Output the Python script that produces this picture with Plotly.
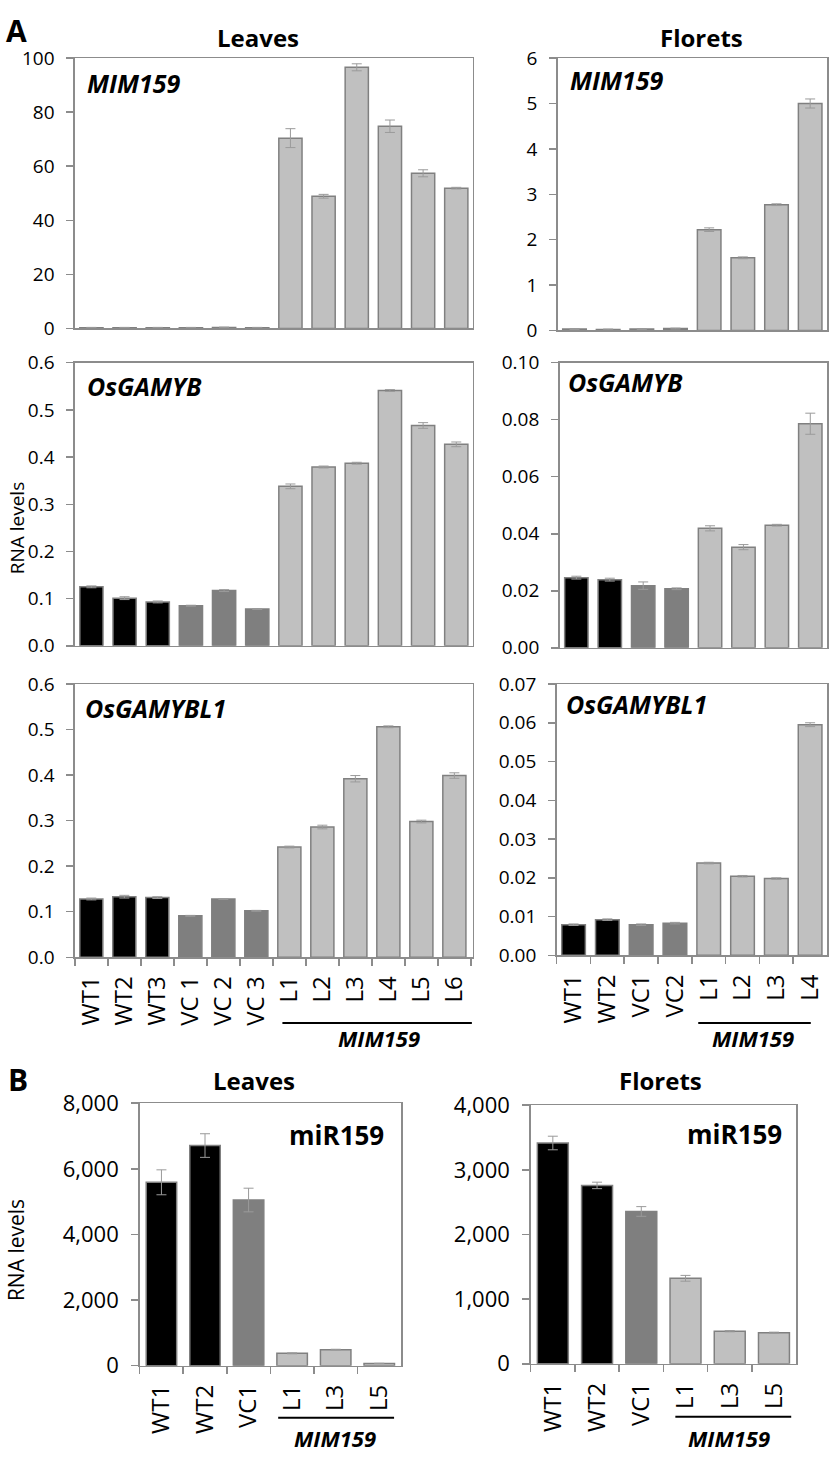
import plotly.graph_objects as go

W, H = 829, 1462
FONT = "Open Sans"

# ---------------- data ----------------
leaf_labels = ["WT1", "WT2", "WT3", "VC 1", "VC 2", "VC 3", "L1", "L2", "L3", "L4", "L5", "L6"]
leaf_groups = ["WT", "WT", "WT", "VC", "VC", "VC", "L", "L", "L", "L", "L", "L"]
flor_labels = ["WT1", "WT2", "VC1", "VC2", "L1", "L2", "L3", "L4"]
flor_groups = ["WT", "WT", "VC", "VC", "L", "L", "L", "L"]

leaf_mim159 = [0.3, 0.3, 0.3, 0.3, 0.4, 0.3, 70.4, 48.9, 96.6, 74.8, 57.4, 51.9]
leaf_mim159_err = [0.1, 0.1, 0.1, 0.1, 0.1, 0.1, 3.5, 0.7, 1.3, 2.3, 1.3, 0.3]
flor_mim159 = [0.03, 0.02, 0.03, 0.04, 2.22, 1.60, 2.77, 5.0]
flor_mim159_err = [0.01, 0.01, 0.01, 0.01, 0.04, 0.02, 0.02, 0.1]

leaf_gamyb = [0.125, 0.101, 0.093, 0.085, 0.117, 0.078, 0.338, 0.379, 0.387, 0.541, 0.467, 0.427]
leaf_gamyb_err = [0.002, 0.003, 0.002, 0.001, 0.002, 0.001, 0.005, 0.002, 0.002, 0.002, 0.006, 0.005]
flor_gamyb = [0.0246, 0.0239, 0.0218, 0.0207, 0.0419, 0.0353, 0.0430, 0.0786]
flor_gamyb_err = [0.0005, 0.0005, 0.0013, 0.0003, 0.0009, 0.0009, 0.0003, 0.0037]

leaf_gamybl1 = [0.128, 0.133, 0.131, 0.091, 0.128, 0.102, 0.242, 0.286, 0.392, 0.506, 0.298, 0.399]
leaf_gamybl1_err = [0.002, 0.003, 0.002, 0.001, 0.001, 0.001, 0.002, 0.004, 0.007, 0.002, 0.003, 0.006]
flor_gamybl1 = [0.0079, 0.0092, 0.0079, 0.0083, 0.0238, 0.0204, 0.0198, 0.0595]
flor_gamybl1_err = [0.0002, 0.0002, 0.0002, 0.0002, 0.0002, 0.0002, 0.0002, 0.0005]

mir_labels = ["WT1", "WT2", "VC1", "L1", "L3", "L5"]
mir_groups = ["WT", "WT", "VC", "L", "L", "L"]
leaf_mir159 = [5590, 6710, 5050, 378, 487, 70]
leaf_mir159_err = [380, 360, 360, 15, 15, 5]
flor_mir159 = [3415, 2759, 2356, 1322, 504, 479]
flor_mir159_err = [105, 50, 75, 45, 10, 10]

group_colors = {"WT": "#000000", "VC": "#7f7f7f", "L": "#c0c0c0"}
EDGE = "#808080"
FRAME = "#8c8c8c"

def px_x(p):
    return p / W

def px_y(p):
    return 1 - p / H

panels = [
    (leaf_labels, leaf_groups, leaf_mim159, leaf_mim159_err, (73, 472), (43, 319), [0, 100], 20, "d", False),
    (flor_labels, flor_groups, flor_mim159, flor_mim159_err, (557, 827), (43, 321), [0, 6], 1, "d", False),
    (leaf_labels, leaf_groups, leaf_gamyb, leaf_gamyb_err, (73, 472), (354, 643), [0, 0.6], 0.1, ".1f", False),
    (flor_labels, flor_groups, flor_gamyb, flor_gamyb_err, (559, 827), (354, 645), [0, 0.10], 0.02, ".2f", False),
    (leaf_labels, leaf_groups, leaf_gamybl1, leaf_gamybl1_err, (73, 472), (682, 961), [0, 0.6], 0.1, ".1f", True),
    (flor_labels, flor_groups, flor_gamybl1, flor_gamybl1_err, (556, 827), (682, 959), [0, 0.07], 0.01, ".2f", True),
    (mir_labels, mir_groups, leaf_mir159, leaf_mir159_err, (138, 400), (1110, 1378), [0, 8000], 2000, ",d", True),
    (mir_labels, mir_groups, flor_mir159, flor_mir159_err, (530, 796), (1112, 1376), [0, 4000], 1000, ",d", True),
]

fig = go.Figure()
layout = {}
for i, (labs, grps, vals, errs, xd, yd, rng, dt, fmt, show_x) in enumerate(panels):
    n = i + 1
    xa = "x" if n == 1 else f"x{n}"
    ya = "y" if n == 1 else f"y{n}"
    big = n >= 7
    fig.add_trace(go.Bar(
        x=labs, y=vals,
        xaxis=xa, yaxis=ya,
        marker=dict(color=[group_colors[g] for g in grps], line=dict(color=EDGE, width=1.5)),
        error_y=dict(type="data", array=errs, color="#9a9a9a", thickness=1, width=5),
        showlegend=False,
    ))
    layout[f"xaxis{'' if n == 1 else n}"] = dict(
        domain=[px_x(xd[0]), px_x(xd[1])], anchor=ya, type="category",
        showline=True, linecolor=FRAME, linewidth=1.5, mirror=True,
        ticks="outside" if show_x else "", tickson="boundaries", ticklen=7, tickcolor=FRAME, tickwidth=1.5,
        showticklabels=show_x, tickangle=-90,
        tickfont=dict(family=FONT, size=24, color="#000"),
        ticklabelstandoff=8,
        showgrid=False, zeroline=False, fixedrange=True,
    )
    layout[f"yaxis{'' if n == 1 else n}"] = dict(
        domain=[px_y(yd[1]), px_y(yd[0])], anchor=xa, range=rng, dtick=dt, tick0=0,
        tickformat=fmt,
        showline=True, linecolor=FRAME, linewidth=1.5, mirror=True,
        ticks="outside", ticklen=7, tickcolor=FRAME, tickwidth=1.5,
        tickfont=dict(family=FONT, size=22 if big else 19, color="#000"),
        ticklabelstandoff=8,
        showgrid=False, zeroline=False, fixedrange=True,
    )

annotations = []

def text(s, x, y, size, bold=True, italic=False, xanchor="center", yanchor="middle", angle=0):
    t = s
    if bold:
        t = f"<b>{t}</b>"
    if italic:
        t = f"<i>{t}</i>"
    annotations.append(dict(text=t, x=px_x(x), y=px_y(y), xref="paper", yref="paper",
                            xanchor=xanchor, yanchor=yanchor, showarrow=False, textangle=angle,
                            font=dict(family=FONT, size=size, color="#000")))

text("A", 15, 15, 30)
text("B", 16, 1086, 30)
text("Leaves", 257, 22, 24)
text("Florets", 701, 22, 24)
text("Leaves", 253, 1087, 24)
text("Florets", 660, 1087, 24)

text("MIM159", 83, 68, 25, italic=True, xanchor="left")
text("MIM159", 567, 65, 25, italic=True, xanchor="left")
text("OsGAMYB", 83, 378, 25, italic=True, xanchor="left")
text("OsGAMYB", 565, 374, 25, italic=True, xanchor="left")
text("OsGAMYBL1", 81, 707, 25, italic=True, xanchor="left")
text("OsGAMYBL1", 563, 702, 25, italic=True, xanchor="left")
text("miR159", 385, 1142, 26, xanchor="right")
text("miR159", 784, 1141, 26, xanchor="right")

text("RNA levels", 15, 523, 19, bold=False, angle=-90)
text("RNA levels", 14, 1260, 21, bold=False, angle=-90)

text("MIM159", 378, 1043, 22, italic=True)
text("MIM159", 753, 1043, 22, italic=True)
text("MIM159", 334, 1452, 22, italic=True)
text("MIM159", 729, 1452, 22, italic=True)

shapes = [
    dict(type="line", xref="x5", yref="paper", x0=5.79, x1=11.53, y0=px_y(1028), y1=px_y(1028),
         line=dict(color="#000", width=2)),
    dict(type="line", xref="x6", yref="paper", x0=3.69, x1=7.02, y0=px_y(1028), y1=px_y(1028),
         line=dict(color="#000", width=2)),
    dict(type="line", xref="x7", yref="paper", x0=2.68, x1=5.34, y0=px_y(1431), y1=px_y(1431),
         line=dict(color="#000", width=2)),
    dict(type="line", xref="x8", yref="paper", x0=2.77, x1=5.39, y0=px_y(1430), y1=px_y(1430),
         line=dict(color="#000", width=2)),
]

fig.update_layout(
    width=W, height=H,
    margin=dict(l=0, r=0, t=0, b=0),
    paper_bgcolor="white", plot_bgcolor="white",
    bargap=0.3,
    annotations=annotations,
    shapes=shapes,
    font=dict(family=FONT, color="#000"),
    **layout,
)

fig.write_html(
    "out.html",
    config={"displayModeBar": False, "staticPlot": True},
    post_script="document.body.style.margin='0';document.body.style.padding='0';"
                "document.body.style.overflow='hidden';document.documentElement.style.overflow='hidden';",
)
